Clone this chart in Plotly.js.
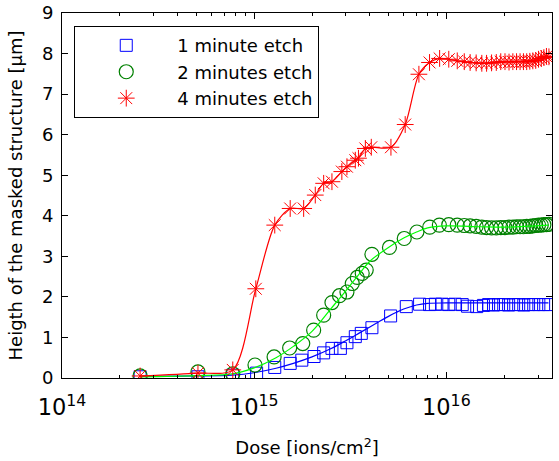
<!DOCTYPE html>
<html>
<head>
<meta charset="utf-8">
<script src="https://cdn.plot.ly/plotly-3.0.1.min.js"></script>
<style>html,body{margin:0;padding:0;background:#fff;}#chart{width:559px;height:461px;}</style>
</head>
<body>
<div id="chart"></div>
<script>
// ---- data ----
var blueDose = [2.55e14,5.1e14,7.74e14,1.03e15,1.28e15,1.54e15,1.77e15,2.05e15,2.30e15,2.54e15,2.81e15,3.04e15,3.36e15,3.61e15,4.10e15,5.13e15,6.19e15,7.26e15,8.18e15,8.77e15,9.5e15,1.03e16,1.11e16,1.21e16,1.29e16,1.44e16,1.56e16,1.66e16,1.76e16,1.87e16,1.99e16,2.11e16,2.24e16,2.38e16,2.53e16,2.68e16,2.85e16,3.03e16,3.21e16,3.41e16];
var blueH    = [0.03,0.03,0.07,0.12,0.26,0.36,0.44,0.53,0.62,0.73,0.73,0.87,1.02,1.10,1.24,1.53,1.76,1.82,1.81,1.82,1.82,1.81,1.82,1.81,1.77,1.76,1.79,1.81,1.80,1.81,1.81,1.80,1.81,1.81,1.80,1.81,1.81,1.81,1.81,1.81];
var blueFitDose = [2.55e14,5e14,7.7e14,1.0e15,1.3e15,1.6e15,2.0e15,2.5e15,3.0e15,3.5e15,4.0e15,4.5e15,5.0e15,5.5e15,6.0e15,7.0e15,8.0e15,1.0e16,1.5e16,2.0e16,3.4e16];
var blueFitH    = [0.04,0.05,0.07,0.13,0.24,0.36,0.52,0.72,0.92,1.10,1.26,1.40,1.52,1.62,1.70,1.80,1.84,1.85,1.85,1.85,1.85];

var greenDose = [2.55e14,5.1e14,7.74e14,1.01e15,1.27e15,1.53e15,1.79e15,2.04e15,2.30e15,2.54e15,2.78e15,3.04e15,3.24e15,3.44e15,3.65e15,3.83e15,4.10e15,5.06e15,6.04e15,7.03e15,8.2e15,9.2e15,1.03e16,1.14e16,1.24e16,1.33e16,1.43e16,1.53e16,1.62e16,1.72e16,1.82e16,1.92e16,2.02e16,2.12e16,2.22e16,2.32e16,2.42e16,2.52e16,2.62e16,2.72e16,2.82e16,2.92e16,3.02e16,3.12e16,3.22e16,3.32e16,3.42e16];
var greenH    = [0.05,0.15,0.10,0.32,0.52,0.74,0.85,1.18,1.55,1.86,2.03,2.12,2.33,2.48,2.58,2.66,3.05,3.22,3.44,3.60,3.72,3.77,3.78,3.77,3.76,3.75,3.74,3.72,3.71,3.70,3.70,3.71,3.71,3.72,3.72,3.73,3.73,3.73,3.74,3.74,3.75,3.76,3.77,3.77,3.78,3.78,3.79];
var greenFitDose = [2.55e14,5e14,7.7e14,1.0e15,1.3e15,1.6e15,2.0e15,2.5e15,3.0e15,3.5e15,4.0e15,5.0e15,6.0e15,7.0e15,8.0e15,1.0e16,1.5e16,2.0e16,3.4e16];
var greenFitH    = [0.03,0.06,0.10,0.25,0.50,0.78,1.15,1.70,2.15,2.55,2.88,3.22,3.45,3.60,3.70,3.75,3.73,3.72,3.77];

var redDose = [2.55e14,5.1e14,7.74e14,1.02e15,1.28e15,1.54e15,1.81e15,2.08e15,2.30e15,2.54e15,2.86e15,3.04e15,3.36e15,3.49e15,3.79e15,4.07e15,5.15e15,6.11e15,7.2e15,8.18e15,9.23e15,1.03e16,1.14e16,1.24e16,1.33e16,1.43e16,1.53e16,1.62e16,1.72e16,1.82e16,1.92e16,2.02e16,2.12e16,2.22e16,2.32e16,2.42e16,2.52e16,2.62e16,2.72e16,2.82e16,2.92e16,3.02e16,3.12e16,3.22e16,3.32e16,3.42e16];
var redH    = [0.05,0.12,0.20,2.20,3.77,4.18,4.18,4.51,4.80,4.84,5.09,5.21,5.37,5.42,5.66,5.69,5.69,6.25,7.49,7.78,7.88,7.86,7.82,7.80,7.78,7.77,7.76,7.76,7.77,7.78,7.80,7.80,7.79,7.80,7.80,7.80,7.80,7.80,7.81,7.82,7.83,7.86,7.88,7.90,7.93,7.92];

// minor tick positions of the log axis (2..9 within each decade)
var minorTicks = [2e14,3e14,4e14,5e14,6e14,7e14,8e14,9e14,2e15,3e15,4e15,5e15,6e15,7e15,8e15,9e15,2e16,3e16];

var legendNames = ['1 minute etch','2 minutes etch','4 minutes etch'];
var xTitle = 'Dose [ions/cm<sup>2</sup>]';
var yTitle = 'Heigth of the masked structure [\u03bcm]';

var FONT = 'DejaVu Sans';
var traces = [
  {x: blueDose, y: blueH, mode: 'markers', name: legendNames[0],
   marker: {symbol: 'square-open', size: 12, color: '#0000ff', line: {width: 1, color: '#0000ff'}}},
  {x: blueFitDose, y: blueFitH, mode: 'lines', showlegend: false, hoverinfo: 'skip',
   line: {color: '#0000ff', width: 1.2, shape: 'spline'}},
  {x: greenDose, y: greenH, mode: 'markers', name: legendNames[1],
   marker: {symbol: 'circle-open', size: 14, color: '#008000', line: {width: 1.2, color: '#008000'}}},
  {x: greenFitDose, y: greenFitH, mode: 'lines', showlegend: false, hoverinfo: 'skip',
   line: {color: '#00ff00', width: 1.2, shape: 'spline'}},
  {x: redDose, y: redH, mode: 'markers', name: legendNames[2],
   marker: {symbol: 'asterisk-open', size: 14, color: '#ff0000', line: {width: 1, color: '#ff0000'}}},
  {x: redDose, y: redH, mode: 'lines', showlegend: false, hoverinfo: 'skip',
   line: {color: '#ff0000', width: 1.2, shape: 'spline', smoothing: 0.8}},
  // carrier for the minor-tick overlay axis (draws nothing)
  {x: minorTicks, y: minorTicks.map(function(){ return null; }), xaxis: 'x2', yaxis: 'y',
   mode: 'markers', showlegend: false, hoverinfo: 'skip', marker: {opacity: 0}}
];

var axisCommon = {
  showgrid: false, zeroline: false, showline: true, linecolor: '#000', linewidth: 1,
  mirror: 'ticks', ticks: 'inside', ticklen: 6, tickcolor: '#000', tickwidth: 1,
  tickfont: {family: FONT, size: 18, color: '#000'}
};

var layout = {
  width: 559, height: 461,
  margin: {l: 62, r: 7, t: 13, b: 83, pad: 0},
  paper_bgcolor: '#fff', plot_bgcolor: '#fff',
  font: {family: FONT, size: 18, color: '#000'},
  xaxis: Object.assign({}, axisCommon, {
    type: 'log', range: [14, 16.55], dtick: 1, exponentformat: 'power',
    ticklabelstandoff: 10,
    title: {text: xTitle, font: {family: FONT, size: 18, color: '#000'}, standoff: 22}
  }),
  xaxis2: {
    overlaying: 'x', type: 'log', range: [14, 16.55],
    tickmode: 'array', tickvals: minorTicks, showticklabels: false,
    ticks: 'inside', ticklen: 3, tickcolor: '#000', tickwidth: 1,
    mirror: 'ticks', showline: true, linecolor: '#000', linewidth: 1,
    showgrid: false, zeroline: false
  },
  yaxis: Object.assign({}, axisCommon, {
    range: [0, 9], dtick: 1, ticklabelstandoff: 4,
    title: {text: yTitle, font: {family: FONT, size: 18, color: '#000'}, standoff: 14}
  }),
  legend: {
    x: 0.025, y: 0.964, xanchor: 'left', yanchor: 'top',
    bgcolor: '#fff', bordercolor: '#000', borderwidth: 1,
    font: {family: FONT, size: 18, color: '#000'},
    itemwidth: 92, tracegroupgap: 0
  },
  showlegend: true
};

Plotly.newPlot('chart', traces, layout, {displayModeBar: false, staticPlot: true});
</script>
</body>
</html>
